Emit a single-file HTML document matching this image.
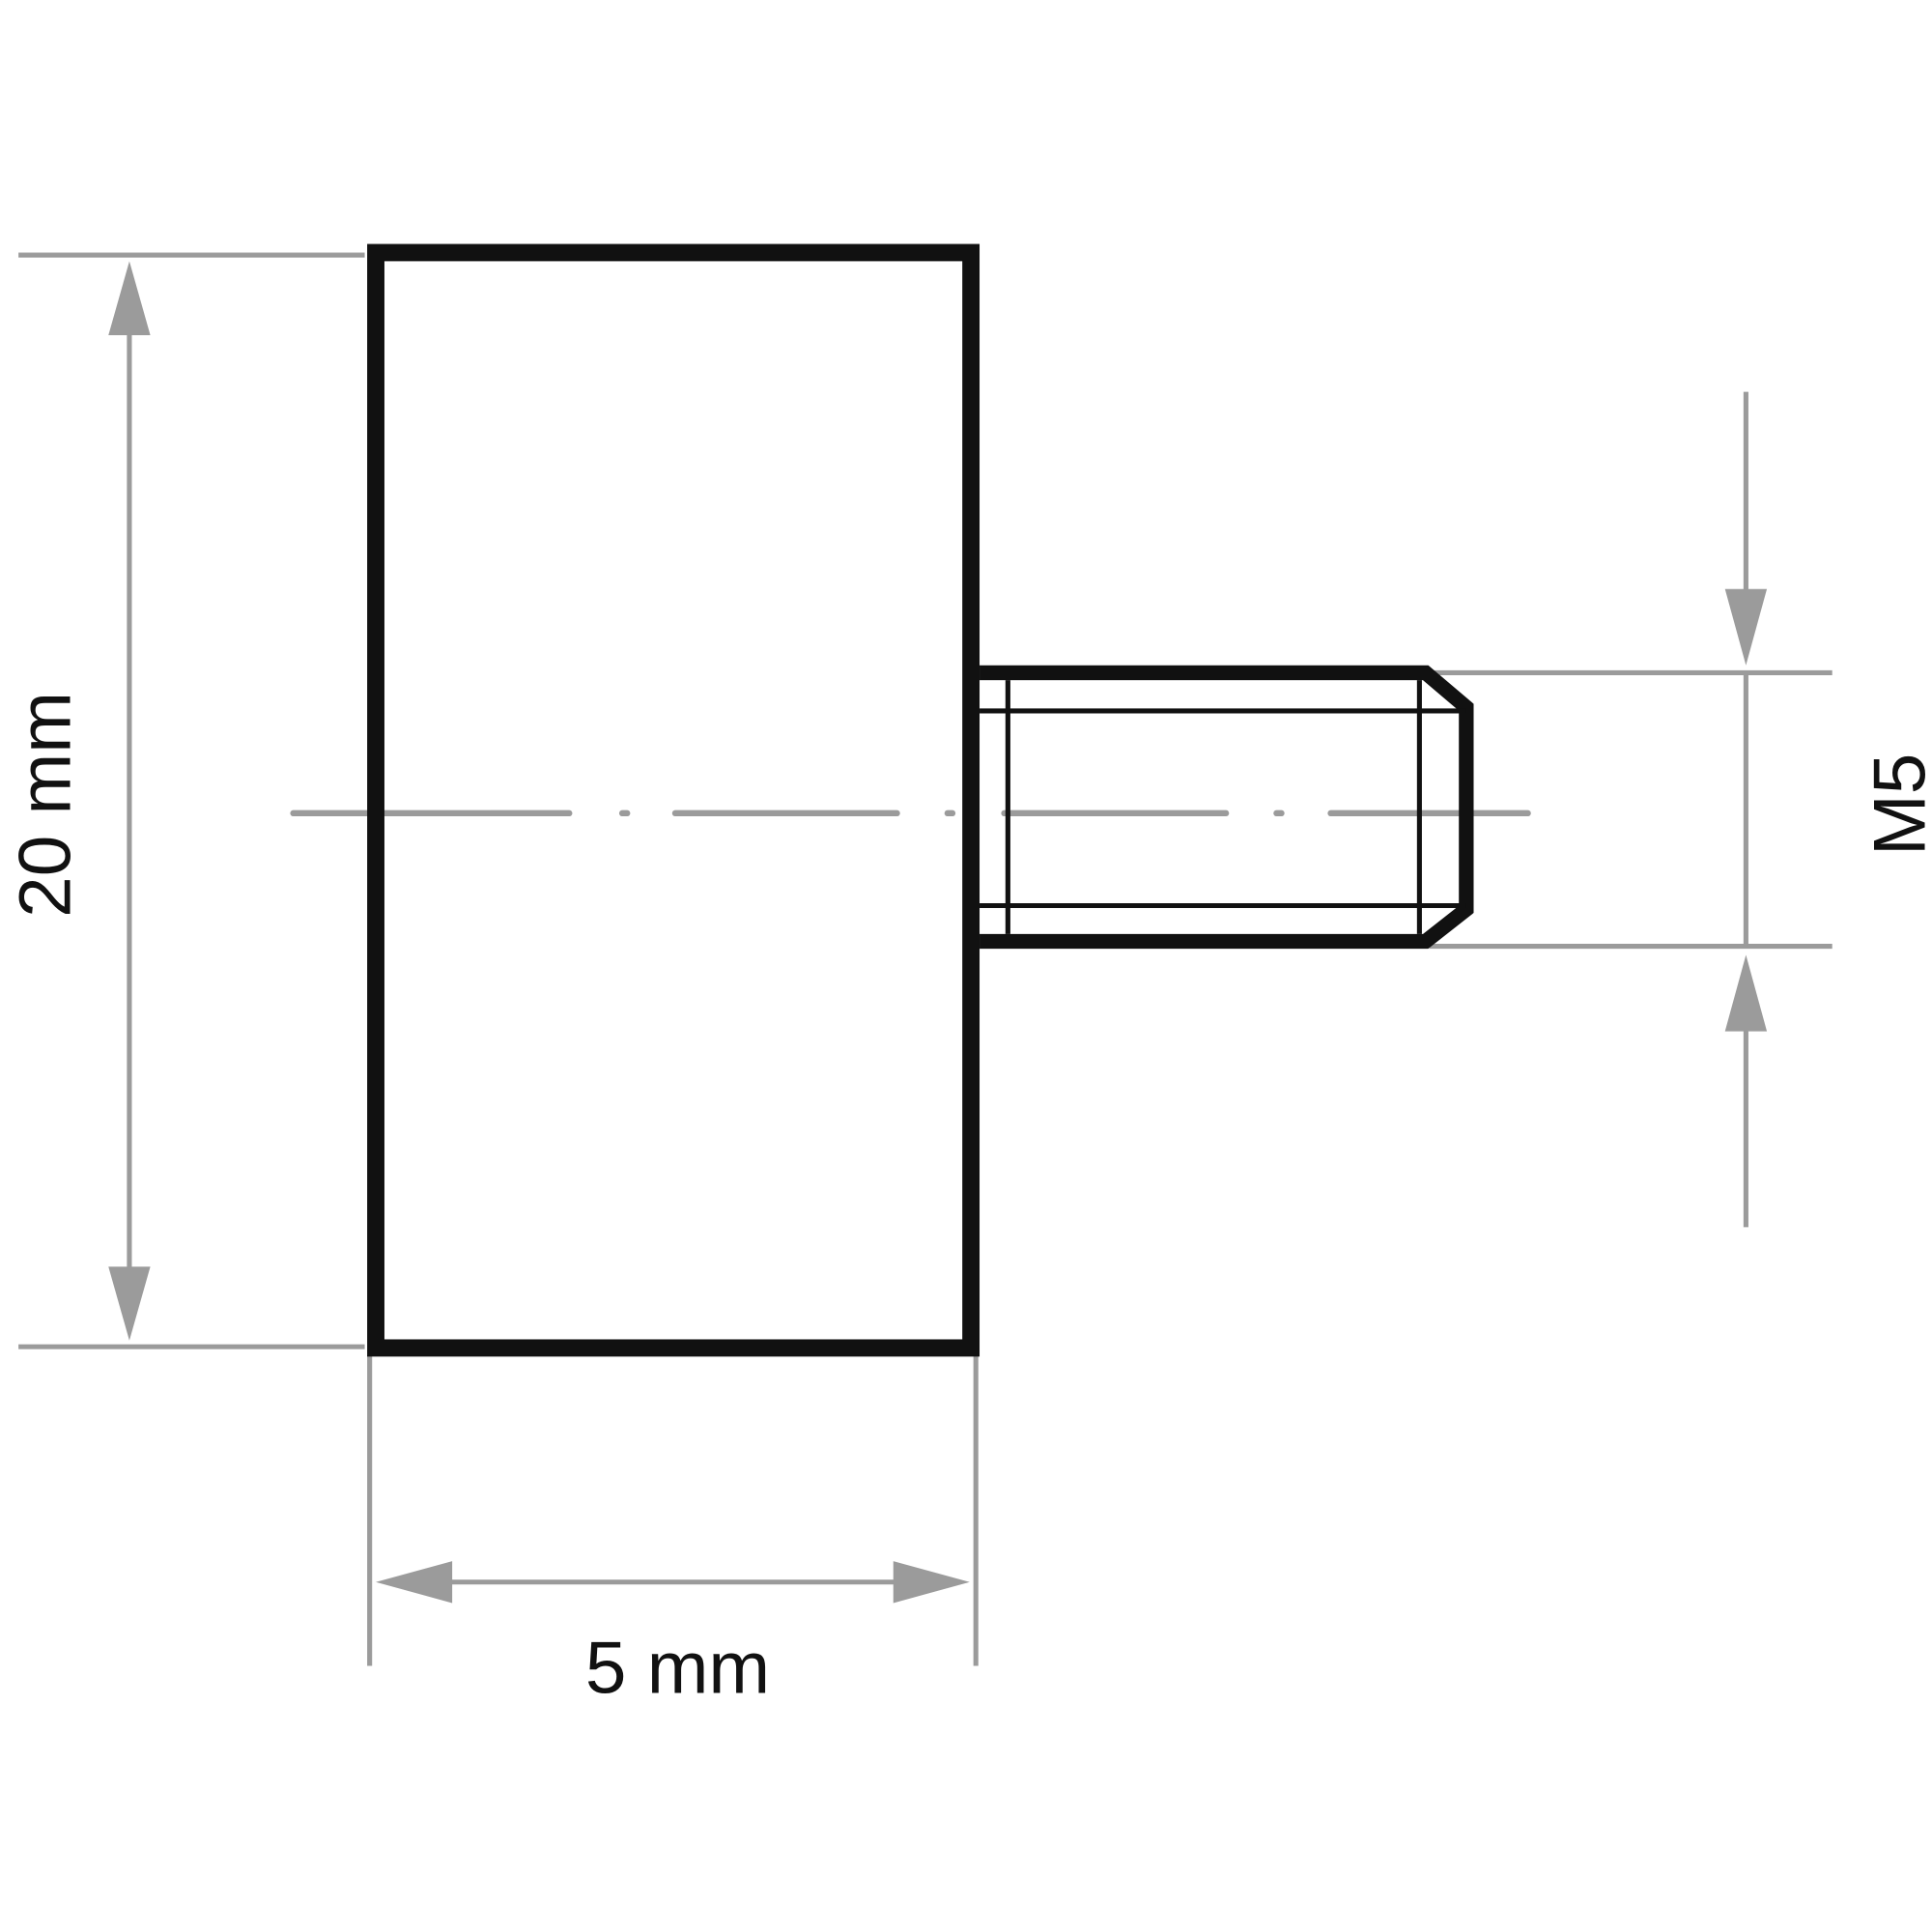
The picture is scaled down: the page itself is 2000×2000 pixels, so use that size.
<!DOCTYPE html>
<html><head><meta charset="utf-8"><style>html,body{margin:0;padding:0;background:#fff}svg{display:block}</style></head>
<body>
<svg width="2000" height="2000" viewBox="0 0 1568 1568" xmlns="http://www.w3.org/2000/svg">
<g stroke="#9b9b9b" stroke-width="4" fill="none">
  <line x1="15" y1="207" x2="296" y2="207"/>
  <line x1="15" y1="1093" x2="296" y2="1093"/>
  <line x1="105" y1="250" x2="105" y2="1050"/>
  <line x1="300" y1="1100" x2="300" y2="1352"/>
  <line x1="792" y1="1100" x2="792" y2="1352"/>
  <line x1="340" y1="1284" x2="750" y2="1284"/>
  <line x1="1160" y1="546" x2="1487" y2="546"/>
  <line x1="1160" y1="768" x2="1487" y2="768"/>
  <line x1="1417" y1="318" x2="1417" y2="500"/>
  <line x1="1417" y1="546" x2="1417" y2="768"/>
  <line x1="1417" y1="815" x2="1417" y2="996"/>
</g>
<g fill="#9b9b9b">
  <polygon points="105,212 88,272 122,272"/>
  <polygon points="105,1088 88,1028 122,1028"/>
  <polygon points="305,1284 367,1267 367,1301"/>
  <polygon points="787,1284 725,1267 725,1301"/>
  <polygon points="1417,540 1400,478 1434,478"/>
  <polygon points="1417,775 1400,837 1434,837"/>
</g>
<g stroke="#9b9b9b" stroke-width="5" stroke-linecap="round">
  <line x1="238" y1="660" x2="462" y2="660"/>
  <line x1="505" y1="660" x2="509" y2="660"/>
  <line x1="548" y1="660" x2="728" y2="660"/>
  <line x1="769" y1="660" x2="773" y2="660"/>
  <line x1="815" y1="660" x2="995" y2="660"/>
  <line x1="1036" y1="660" x2="1040" y2="660"/>
  <line x1="1080" y1="660" x2="1240" y2="660"/>
</g>
<rect x="305" y="205" width="483" height="889" fill="none" stroke="#111" stroke-width="14"/>
<g stroke="#111" fill="none">
  <polyline points="795,546 1157,546 1190,574 1190,738 1157,764 795,764" stroke-width="12" stroke-linejoin="miter"/>
  <line x1="795" y1="577" x2="1190" y2="577" stroke-width="4"/>
  <line x1="795" y1="735" x2="1190" y2="735" stroke-width="4"/>
  <line x1="818" y1="552" x2="818" y2="758" stroke-width="4"/>
  <line x1="1152" y1="552" x2="1152" y2="758" stroke-width="4"/>
</g>
<text x="0" y="0" transform="translate(57,653) rotate(-90)" text-anchor="middle" font-family="Liberation Sans, sans-serif" font-size="60" fill="#111">20 mm</text>
<text x="550" y="1374" text-anchor="middle" font-family="Liberation Sans, sans-serif" font-size="60" fill="#111">5 mm</text>
<text x="0" y="0" transform="translate(1562,653) rotate(-90)" text-anchor="middle" font-family="Liberation Sans, sans-serif" font-size="60" fill="#111">M5</text>
</svg>
</body></html>
